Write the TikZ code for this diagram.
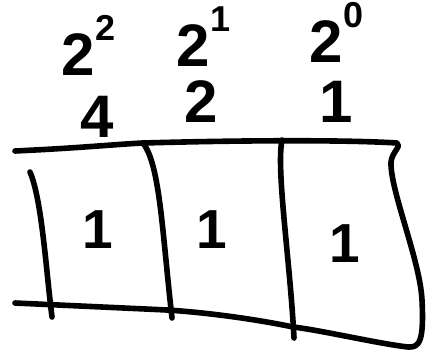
\documentclass[tikz,border=0pt]{standalone}
\usepackage{fontspec}
\setmainfont{Liberation Sans}
\tikzset{
  pen/.style={line width=5.6pt,line cap=round,line join=round},
  digit/.style={inner sep=0pt,anchor=base,font=\bfseries\fontsize{60}{62}\selectfont},
  celldigit/.style={inner sep=0pt,anchor=base,font=\bfseries\fontsize{55}{57}\selectfont}
}
\newcommand{\pw}[1]{2\kern1pt\raisebox{0.57em}{\fontsize{36}{38}\selectfont #1}}
\begin{document}
\begin{tikzpicture}[x=1pt,y=-1pt]
  \useasboundingbox (0,0) rectangle (429,354);
  % powers and their values
  \node[digit,anchor=base west] (p2) at (61,75) {\pw{2}};
  \node[digit,anchor=base west] (p1) at (176,66) {\pw{1}};
  \node[digit,anchor=base west] (p0) at (309,62) {\pw{0}};
  \node[digit] (v4) at (97,137) {4};
  \node[digit] (v2) at (201,122) {2};
  \node[digit] (v1) at (336,122) {1};
  % outline of the row
  \draw[pen] (15,151) .. controls (80,148) and (120,144) .. (143,143)
    .. controls (250,140) and (350,140) .. (397,143)
    .. controls (402,146) and (392,152) .. (391,162)
    .. controls (390,190) and (420,260) .. (422,300)
    .. controls (424,340) and (420,348) .. (408,347)
    .. controls (380,344) and (320,330) .. (293,327)
    .. controls (250,318) and (200,312) .. (167,310)
    -- (15,303);
  % cell walls
  \draw[pen] (30,172) .. controls (42,200) and (46,270) .. (52,317);
  \draw[pen] (143,143) .. controls (160,165) and (162,230) .. (172,318);
  \draw[pen] (282,140) .. controls (276,170) and (290,260) .. (294,338);
  % cell contents
  \node[celldigit] (c2) at (98,248) {1};
  \node[celldigit] (c1) at (212,248) {1};
  \node[celldigit] (c0) at (345,262) {1};
\end{tikzpicture}
\end{document}
